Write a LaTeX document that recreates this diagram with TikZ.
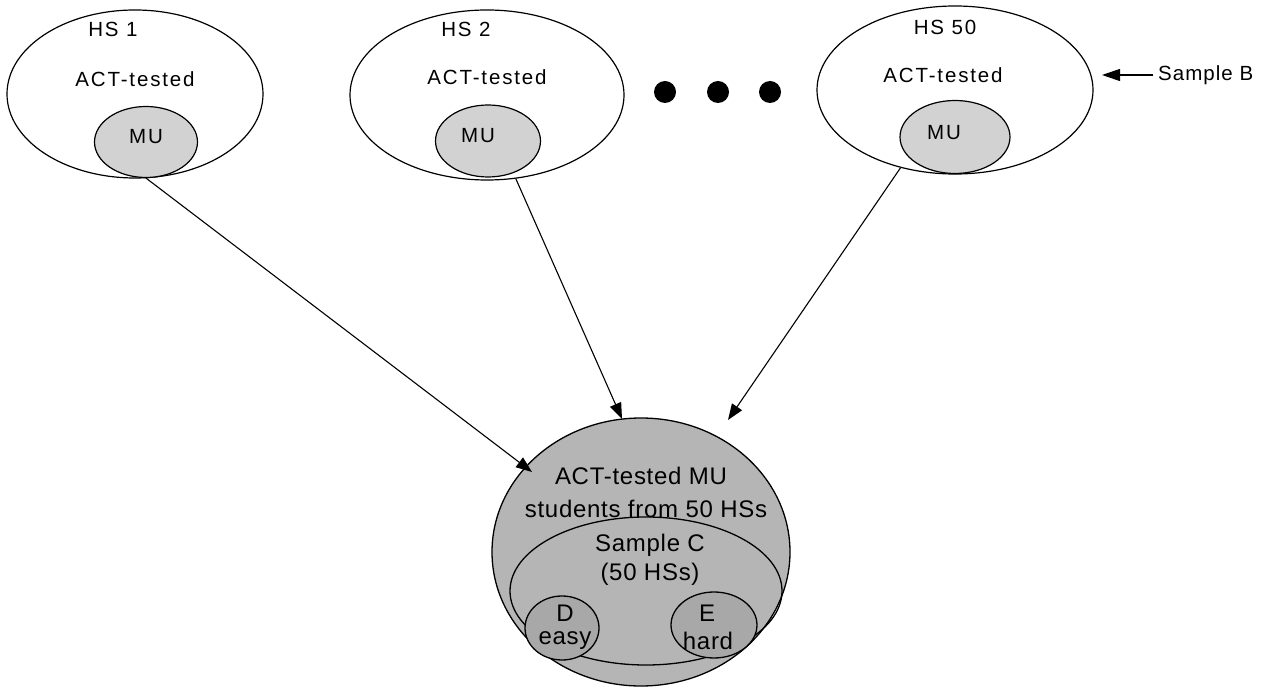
\documentclass[tikz,border=0pt]{standalone}
\usepackage{fontspec}
\setmainfont{Liberation Sans}
\newfontfamily\spacedfont[LetterSpace=9]{Liberation Sans}
\newfontfamily\sbfont[LetterSpace=5]{Liberation Sans}
\newfontfamily\bspacedfont[LetterSpace=3]{Liberation Sans}
\usetikzlibrary{shapes.geometric,arrows.meta}
\begin{document}
\begin{tikzpicture}[x=1pt,y=-1pt,
  hs/.style={draw,ellipse,line width=1.2pt,fill=white,inner sep=0pt},
  mu/.style={draw,ellipse,line width=1.2pt,fill=gray!35,inner sep=0pt},
  bigfill/.style={draw,ellipse,line width=1.3pt,fill=gray!58,inner sep=0pt},
  inner/.style={draw,ellipse,line width=1.3pt,inner sep=0pt},
  lbl/.style={font=\spacedfont\fontsize{20.5}{24}\selectfont,inner sep=0pt},
  sblbl/.style={font=\sbfont\fontsize{20.5}{24}\selectfont,inner sep=0pt},
  blbl/.style={font=\bspacedfont\fontsize{24}{33}\selectfont,inner sep=0pt,align=center},
  arr/.style={line width=1.1pt,-{Triangle[length=16pt,width=12pt]}},
  dot/.style={circle,fill=black,minimum size=22pt,inner sep=0pt}]
\useasboundingbox (0,0) rectangle (1280,692);
% top ellipses
\node[hs,minimum width=256pt,minimum height=168pt] (hs1) at (135,94) {};
\node[hs,minimum width=274pt,minimum height=170pt] (hs2) at (487,95) {};
\node[hs,minimum width=276pt,minimum height=168pt] (hs50) at (955,90) {};
\node[mu,minimum width=103pt,minimum height=71pt] (mu1) at (146,142) {};
\node[mu,minimum width=105pt,minimum height=72pt] (mu2) at (488,141) {};
\node[mu,minimum width=110pt,minimum height=73pt] (mu50) at (955,137) {};
\node[lbl] (h1) at (113,29) {HS 1};
\node[lbl] (a1) at (135,79) {ACT-tested};
\node[lbl] (m1) at (146,137) {MU};
\node[lbl] (h2) at (466,29) {HS 2};
\node[lbl] (a2) at (487,77) {ACT-tested};
\node[lbl] (m2) at (478,136) {MU};
\node[lbl] (h50) at (945,27) {HS 50};
\node[lbl] (a50) at (943,75) {ACT-tested};
\node[lbl] (m50) at (944,133) {MU};
% dots
\node[dot] (d1) at (665,92) {};
\node[dot] (d2) at (718,92) {};
\node[dot] (d3) at (770,92) {};
% sample B
\node[sblbl,anchor=west] (sb) at (1158,75) {Sample B};
\coordinate (sbs) at (1153,75);
\coordinate (sbt) at (1102,75);
\draw[line width=1.1pt,-{Triangle[length=18pt,width=12pt]}] (sbs) -- (sbt);
% bottom ellipse
\node[bigfill,minimum width=298pt,minimum height=268pt] (big) at (641,552) {};
\node[inner,minimum width=272pt,minimum height=148pt] (sc) at (646,591) {};
\node[inner,fill=gray!68,minimum width=74pt,minimum height=64pt] (dd) at (562,628) {};
\node[inner,fill=gray!68,minimum width=86pt,minimum height=66pt] (ee) at (714,625) {};
\node[blbl] (t1) at (641,476) {ACT-tested MU};
\node[blbl] (t2) at (646,509) {students from 50 HSs};
\node[blbl] (t3) at (650,545) {Sample C};
\node[blbl] (t4) at (650,574) {(50 HSs)};
\node[blbl] (td) at (565,613) {D};
\node[blbl] (tde) at (565,641) {easy};
\node[blbl] (te) at (707,613) {E};
\node[blbl] (teh) at (708,641) {hard};
% connectors
\coordinate (e1) at (532,472);
\coordinate (e2) at (622,419);
\coordinate (e3) at (728,420);
\draw[arr] (mu1.south) -- (e1);
\draw[arr] (hs2.-71) -- (e2);
\draw[arr] (hs50.-125) -- (e3);
\end{tikzpicture}
\end{document}
